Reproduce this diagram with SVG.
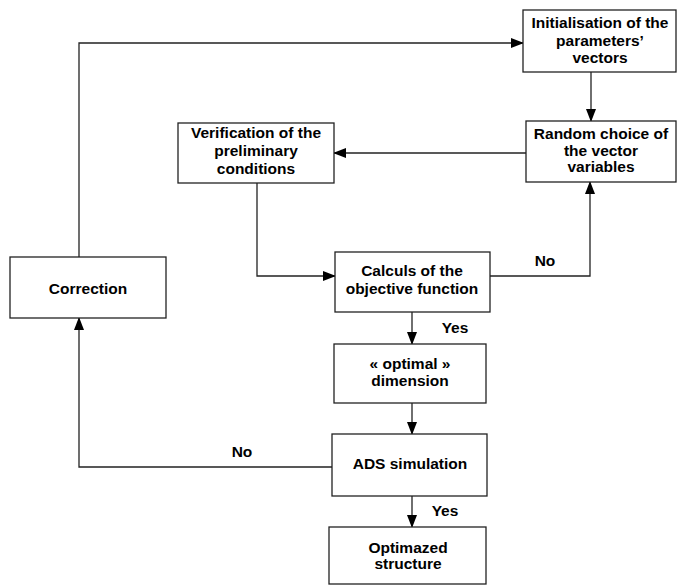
<svg xmlns="http://www.w3.org/2000/svg" width="677" height="586" viewBox="0 0 677 586">
<style>
.box{fill:#fff;stroke:#222;stroke-width:1.3}
.t{font-family:"Liberation Sans",Arial,sans-serif;font-weight:bold;font-size:15.5px;fill:#000;text-anchor:middle}
.c{fill:none;stroke:#222;stroke-width:1.3}
</style>
<defs>
<marker id="ah" markerWidth="13" markerHeight="10" refX="12" refY="5" orient="auto" markerUnits="userSpaceOnUse">
<path d="M0,0 L13,5 L0,10 Z" fill="#000"/>
</marker>
</defs>
<rect width="677" height="586" fill="#fff"/>
<g id="connectors">
<path class="c" d="M591,72 V121" marker-end="url(#ah)"/>
<path class="c" d="M526,153 H334" marker-end="url(#ah)"/>
<path class="c" d="M257,183 V276 H335" marker-end="url(#ah)"/>
<path class="c" d="M490,276 H590 V182" marker-end="url(#ah)"/>
<path class="c" d="M412,312 V344" marker-end="url(#ah)"/>
<path class="c" d="M412,403 V434" marker-end="url(#ah)"/>
<path class="c" d="M412,496 V527" marker-end="url(#ah)"/>
<path class="c" d="M332,467 H79 V318" marker-end="url(#ah)"/>
<path class="c" d="M79,257 V43 H523" marker-end="url(#ah)"/>
<text class="t" x="545" y="266">No</text>
<text class="t" x="455" y="333">Yes</text>
<text class="t" x="242" y="457">No</text>
<text class="t" x="445" y="516">Yes</text>
</g>
<g id="init">
<rect class="box" x="523" y="10" width="153" height="62"/>
<text class="t" x="600" y="28">Initialisation of the</text>
<text class="t" x="600" y="46">parameters’</text>
<text class="t" x="600" y="63">vectors</text>
</g>
<g id="random">
<rect class="box" x="526" y="121" width="150" height="61"/>
<text class="t" x="601" y="139">Random choice of</text>
<text class="t" x="601" y="156">the vector</text>
<text class="t" x="601" y="172">variables</text>
</g>
<g id="verification">
<rect class="box" x="178" y="123" width="156" height="60"/>
<text class="t" x="256" y="138">Verification of the</text>
<text class="t" x="256" y="156">preliminary</text>
<text class="t" x="256" y="174">conditions</text>
</g>
<g id="correction">
<rect class="box" x="10" y="257" width="156" height="61"/>
<text class="t" x="88" y="294">Correction</text>
</g>
<g id="calculs">
<rect class="box" x="335" y="252" width="155" height="60"/>
<text class="t" x="412" y="276">Calculs of the</text>
<text class="t" x="412" y="294">objective function</text>
</g>
<g id="optimal">
<rect class="box" x="334" y="344" width="152" height="59"/>
<text class="t" x="410" y="369">« optimal »</text>
<text class="t" x="410" y="386">dimension</text>
</g>
<g id="ads">
<rect class="box" x="332" y="434" width="155" height="62"/>
<text class="t" x="410" y="469">ADS simulation</text>
</g>
<g id="optimized">
<rect class="box" x="329" y="527" width="157" height="57"/>
<text class="t" x="408" y="553">Optimazed</text>
<text class="t" x="408" y="569">structure</text>
</g>
</svg>
